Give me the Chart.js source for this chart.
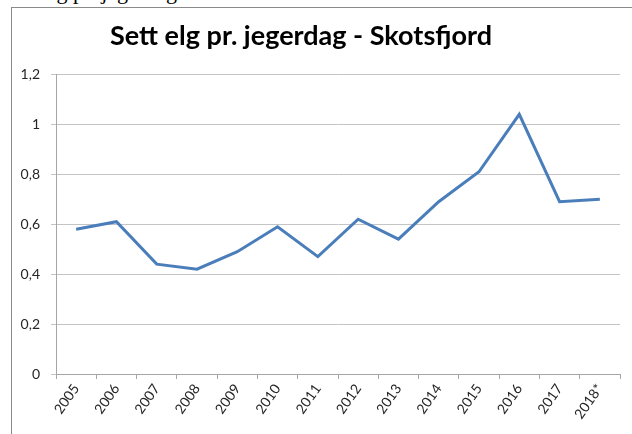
<!DOCTYPE html>
<html lang="no">
<head>
<meta charset="UTF-8" />
<title>Sett elg pr. jegerdag - Skotsfjord</title>
<script src="https://cdn.jsdelivr.net/npm/chart.js@4"></script>
<style>
  html, body { margin: 0; padding: 0; background: #fff; overflow: hidden; width: 632px; height: 434px; }
  #heading { position: absolute; left: 1px; top: -19px; font: 22px "Liberation Serif", serif; line-height: 1; color: #000; white-space: nowrap; }
  #frame { position: absolute; left: 11px; top: 7px; width: 660px; height: 460px; border: 1px solid #8a8a8a; }
  #wrap { position: absolute; left: -18px; top: 0; width: 650px; height: 434px; }
</style>
</head>
<body>
<div id="heading">Sett elg pr. jegerdag.</div>
<div id="frame"></div>
<div id="wrap"><canvas id="elgChart"></canvas></div>
<script>
// data
const years = ['2005', '2006', '2007', '2008', '2009', '2010', '2011', '2012', '2013', '2014', '2015', '2016', '2017', '2018*'];
const settElg = [0.58, 0.61, 0.44, 0.42, 0.49, 0.59, 0.47, 0.62, 0.54, 0.69, 0.81, 1.04, 0.69, 0.70];
const yTicks = [0, 0.2, 0.4, 0.6, 0.8, 1, 1.2];

const tickFont = { family: 'Lato, "Open Sans", sans-serif', size: 14 };

const ctx = document.getElementById('elgChart').getContext('2d');
new Chart(ctx, {
  type: 'line',
  data: {
    labels: years,
    datasets: [{
      data: settElg,
      borderColor: '#4a7ebb',
      borderWidth: 3,
      pointRadius: 0,
      tension: 0,
      fill: false
    }]
  },
  options: {
    responsive: true,
    maintainAspectRatio: false,
    animation: false,
    layout: { padding: { left: 0, right: 12, top: 0, bottom: 0 } },
    plugins: {
      legend: { display: false },
      tooltip: { enabled: false },
      title: {
        display: true,
        text: 'Sett elg pr. jegerdag - Skotsfjord',
        color: '#000',
        font: { family: 'Lato, "Open Sans", sans-serif', size: 27, weight: 'bold' },
        padding: { top: 20, bottom: 22 }
      }
    },
    scales: {
      x: {
        offset: true,
        grid: {
          offset: true,
          drawOnChartArea: false,
          drawTicks: true,
          tickLength: 5,
          color: '#a6a6a6'
        },
        border: { color: '#a6a6a6' },
        ticks: {
          color: '#262626',
          font: tickFont,
          minRotation: 55,
          maxRotation: 55,
          autoSkip: false,
          padding: 2
        },
        afterFit: function (scale) { scale.height = 60; }
      },
      y: {
        min: 0,
        max: 1.2,
        afterBuildTicks: function (scale) {
          scale.ticks = yTicks.map(v => ({ value: v }));
        },
        grid: {
          color: '#c4c4c4',
          drawTicks: true,
          tickLength: 5
        },
        border: { color: '#a6a6a6' },
        ticks: {
          color: '#262626',
          font: tickFont,
          padding: 11,
          callback: function (value) {
            return String(Math.round(value * 10) / 10).replace('.', ',');
          }
        },
        afterFit: function (scale) { scale.width = 74; }
      }
    }
  }
});
</script>
</body>
</html>
